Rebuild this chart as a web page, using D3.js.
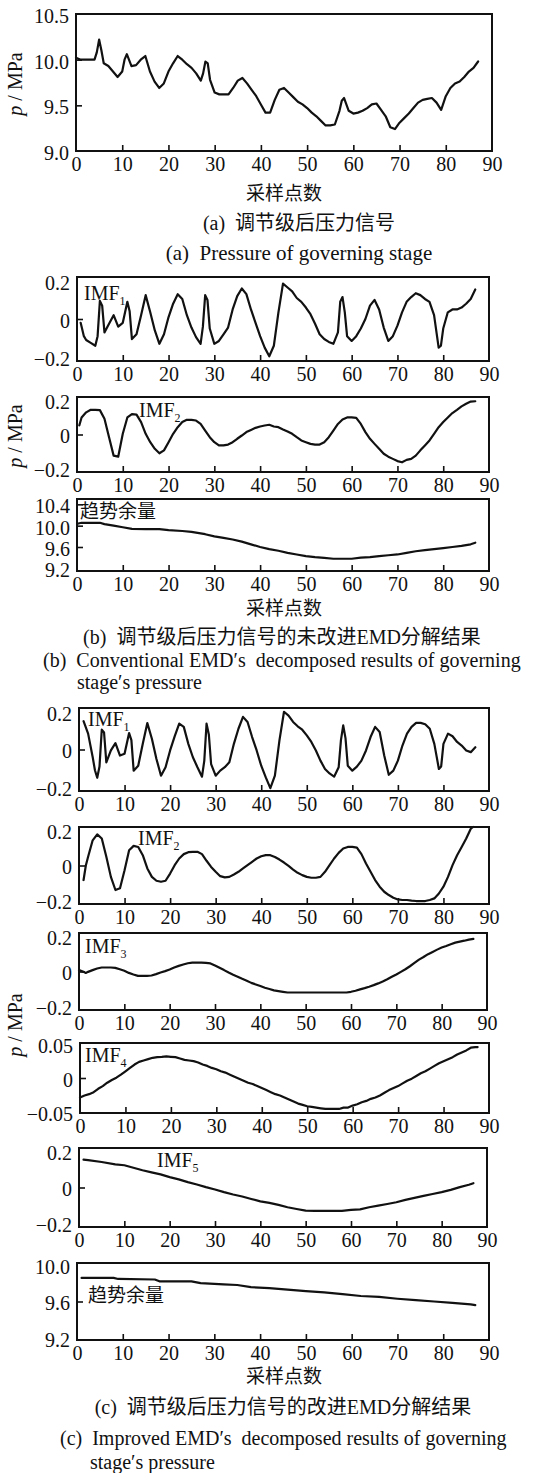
<!DOCTYPE html>
<html><head><meta charset="utf-8">
<script src="https://cdn.jsdelivr.net/npm/d3@7"></script>
<style>
html,body{margin:0;padding:0;background:#fff;}
svg text{font-family:"Liberation Serif","Noto Sans CJK SC",serif;fill:#111;white-space:pre;}
</style></head><body>
<svg id="chart" width="555" height="1473"></svg>
<script>
// ---------------- data ----------------
const xTicks = [0,10,20,30,40,50,60,70,80,90];
const pressTicks = [9.0,9.5,10.0,10.5];
const imfTicks = [-0.2,0,0.2];
const imf4Ticks = [-0.05,0,0.05];
const trendBTicks = [9.2,9.6,10.0,10.4];
const trendCTicks = [9.2,9.6,10.0];

const pressure = [[0,10.02],[1,10.0],[2,10.0],[3,10.0],[4,10.0],[4.5,10.08],[5,10.22],[5.5,10.1],[6,9.96],[7,9.93],[8,9.87],[9,9.81],[10,9.87],[10.5,10.0],[11,10.06],[12,9.93],[13,9.94],[14,10.0],[15,10.04],[16,9.87],[17,9.76],[18,9.69],[19,9.74],[20,9.87],[21,9.96],[22,10.04],[23,10.0],[24,9.95],[25,9.91],[26,9.85],[27,9.77],[27.5,9.85],[28,9.98],[28.5,9.96],[29,9.78],[30,9.64],[31,9.62],[32,9.62],[33,9.62],[34,9.69],[35,9.77],[36,9.80],[37,9.74],[38,9.67],[39,9.60],[40,9.51],[41,9.42],[42,9.42],[43,9.56],[44,9.67],[45,9.69],[46,9.64],[47,9.59],[48,9.54],[49,9.51],[50,9.47],[51,9.42],[52,9.38],[53,9.33],[54,9.28],[55,9.28],[56,9.29],[57,9.44],[57.5,9.55],[58,9.58],[59,9.44],[60,9.41],[61,9.42],[62,9.44],[63,9.47],[64,9.51],[65,9.52],[66,9.45],[67,9.38],[68,9.26],[69,9.24],[70,9.31],[71,9.36],[72,9.41],[73,9.47],[74,9.53],[75,9.56],[76,9.57],[77,9.58],[78,9.53],[79,9.45],[80,9.60],[81,9.69],[82,9.74],[83,9.76],[84,9.81],[85,9.87],[86,9.91],[87,9.98]];

const convImf1 = [[0.8,-0.02],[1.5,-0.09],[2,-0.11],[3,-0.125],[4,-0.14],[4.5,-0.09],[5,0.095],[5.5,0.07],[6,-0.07],[7,-0.025],[8,0.02],[9,-0.04],[10,-0.02],[11,0.09],[11.5,0.04],[12,-0.105],[13,-0.08],[14,0.02],[15,0.125],[16,0.035],[17,-0.06],[18,-0.13],[19,-0.08],[20,0.01],[21,0.08],[22,0.13],[23,0.105],[24,0.02],[25,-0.045],[26,-0.095],[27,-0.13],[27.5,-0.04],[28,0.125],[28.5,0.1],[29,-0.05],[30,-0.13],[31,-0.115],[32,-0.08],[33,-0.045],[34,0.05],[35,0.12],[36,0.16],[37,0.13],[38,0.05],[39,-0.02],[40,-0.09],[41,-0.15],[42,-0.195],[43,-0.14],[44,0.035],[45,0.185],[46,0.165],[47,0.145],[48,0.11],[49,0.09],[50,0.06],[51,0.025],[52,-0.025],[53,-0.08],[54,-0.105],[55,-0.12],[56,-0.13],[57,-0.07],[57.5,0.09],[58,0.115],[58.5,0.035],[59,-0.09],[60,-0.115],[61,-0.09],[62,-0.05],[63,0],[64,0.07],[65,0.1],[66,0.05],[67,-0.045],[68,-0.115],[69,-0.09],[70,-0.035],[71,0.035],[72,0.09],[73,0.115],[74,0.135],[75,0.125],[76,0.105],[77,0.09],[78,0.02],[79,-0.15],[79.5,-0.14],[80,-0.05],[81,0.035],[82,0.05],[83,0.05],[84,0.06],[85,0.08],[86,0.105],[87,0.155]];

const convImf2 = [[0.5,0.053],[1,0.10],[2,0.13],[3,0.145],[4,0.145],[5,0.143],[6,0.093],[7,-0.016],[8,-0.124],[9,-0.13],[10,0.004],[11,0.10],[12,0.12],[13,0.117],[14,0.073],[15,0.004],[16,-0.045],[17,-0.084],[18,-0.11],[19,-0.093],[20,-0.045],[21,0.004],[22,0.043],[23,0.073],[24,0.086],[25,0.086],[26,0.082],[27,0.062],[28,0.023],[29,-0.016],[30,-0.045],[31,-0.064],[32,-0.064],[33,-0.059],[34,-0.045],[35,-0.025],[36,-0.006],[37,0.014],[38,0.027],[39,0.039],[40,0.047],[41,0.053],[42,0.057],[43,0.047],[44,0.043],[45,0.03],[46,0.018],[47,0.004],[48,-0.016],[49,-0.035],[50,-0.045],[51,-0.055],[52,-0.059],[53,-0.059],[54,-0.045],[55,-0.016],[56,0.023],[57,0.062],[58,0.088],[59,0.10],[60,0.10],[61,0.098],[62,0.062],[63,0.014],[64,-0.025],[65,-0.055],[66,-0.084],[67,-0.113],[68,-0.13],[69,-0.143],[70,-0.156],[71,-0.163],[72,-0.149],[73,-0.143],[74,-0.124],[75,-0.093],[76,-0.064],[77,-0.035],[78,0.004],[79,0.043],[80,0.073],[81,0.10],[82,0.126],[83,0.145],[84,0.165],[85,0.18],[86,0.193],[87,0.195]];

const convTrend = [[0.3,10.04],[1,10.054],[3,10.054],[5,10.054],[6,10.03],[8,10.0],[10,9.97],[12,9.94],[15,9.935],[18,9.935],[20,9.916],[23,9.90],[25,9.885],[28,9.84],[30,9.80],[32,9.77],[34,9.74],[36,9.70],[38,9.65],[40,9.60],[42,9.56],[44,9.53],[46,9.49],[48,9.46],[50,9.43],[52,9.41],[54,9.395],[56,9.38],[58,9.38],[60,9.38],[62,9.40],[64,9.41],[66,9.43],[68,9.445],[70,9.46],[72,9.49],[74,9.52],[76,9.54],[78,9.56],[80,9.58],[82,9.60],[84,9.62],[86,9.65],[87,9.68]];

const impImf1 = [[1,0.15],[2,0.084],[3,-0.04],[3.5,-0.11],[4,-0.15],[4.5,-0.09],[5,0.105],[5.5,0.09],[6,-0.068],[7,-0.005],[8,0.034],[9,-0.032],[10,-0.023],[11,0.087],[11.5,0.05],[12,-0.112],[13,-0.086],[14,0.03],[15,0.14],[16,0.057],[17,-0.05],[18,-0.139],[19,-0.094],[20,-0.005],[21,0.07],[22,0.137],[23,0.12],[24,0.03],[25,-0.041],[26,-0.094],[27,-0.144],[27.5,-0.06],[28,0.137],[28.5,0.08],[29,-0.077],[30,-0.139],[31,-0.112],[32,-0.094],[33,-0.068],[34,0.03],[35,0.11],[36,0.173],[37,0.146],[38,0.066],[39,-0.005],[40,-0.086],[41,-0.148],[42,-0.205],[43,-0.139],[44,0.048],[45,0.2],[46,0.18],[47,0.146],[48,0.123],[49,0.105],[50,0.075],[51,0.04],[52,-0.005],[53,-0.059],[54,-0.103],[55,-0.127],[56,-0.144],[57,-0.094],[57.5,0.05],[58,0.128],[58.5,0.06],[59,-0.086],[60,-0.112],[61,-0.091],[62,-0.059],[63,-0.005],[64,0.066],[65,0.12],[66,0.093],[67,-0.032],[68,-0.134],[69,-0.112],[70,-0.059],[71,0.021],[72,0.084],[73,0.12],[74,0.141],[75,0.141],[76,0.134],[77,0.11],[78,0.03],[79,-0.103],[79.5,-0.09],[80,0.03],[81,0.084],[82,0.07],[83,0.04],[84,0.021],[85,-0.005],[86,-0.014],[87,0.012]];

const impImf2 = [[1,-0.083],[1.5,0.0],[2,0.05],[3,0.144],[4,0.178],[5,0.154],[6,0.05],[7,-0.065],[8,-0.14],[9,-0.13],[10,-0.027],[11,0.087],[12,0.112],[13,0.106],[14,0.059],[15,-0.017],[16,-0.065],[17,-0.087],[18,-0.093],[19,-0.087],[20,-0.046],[21,0.002],[22,0.04],[23,0.065],[24,0.076],[25,0.078],[26,0.078],[27,0.065],[28,0.027],[29,-0.008],[30,-0.036],[31,-0.061],[32,-0.068],[33,-0.065],[34,-0.051],[35,-0.036],[36,-0.017],[37,0.002],[38,0.021],[39,0.04],[40,0.053],[41,0.059],[42,0.059],[43,0.049],[44,0.034],[45,0.017],[46,-0.002],[47,-0.023],[48,-0.042],[49,-0.055],[50,-0.065],[51,-0.07],[52,-0.07],[53,-0.065],[54,-0.036],[55,0.002],[56,0.04],[57,0.072],[58,0.097],[59,0.106],[60,0.106],[61,0.102],[62,0.065],[63,0.011],[64,-0.036],[65,-0.083],[66,-0.121],[67,-0.15],[68,-0.169],[69,-0.184],[70,-0.194],[71,-0.197],[72,-0.197],[73,-0.201],[74,-0.203],[75,-0.203],[76,-0.203],[77,-0.197],[78,-0.188],[79,-0.16],[80,-0.121],[81,-0.065],[82,0.002],[83,0.059],[84,0.106],[85,0.154],[86,0.21],[86.5,0.22]];

const impImf3 = [[0,0.008],[1,-0.002],[1.5,-0.008],[2,-0.002],[3,0.008],[4,0.017],[5,0.023],[6,0.023],[7,0.023],[8,0.021],[9,0.013],[10,0.004],[11,-0.008],[12,-0.017],[13,-0.025],[14,-0.025],[15,-0.025],[16,-0.023],[17,-0.015],[18,-0.006],[19,0.002],[20,0.011],[21,0.023],[22,0.032],[23,0.04],[24,0.047],[25,0.051],[26,0.051],[27,0.051],[28,0.049],[29,0.046],[30,0.034],[31,0.021],[32,0.008],[33,-0.006],[34,-0.019],[35,-0.03],[36,-0.042],[37,-0.053],[38,-0.065],[39,-0.074],[40,-0.083],[41,-0.093],[42,-0.1],[43,-0.108],[44,-0.112],[45,-0.116],[46,-0.12],[50,-0.12],[55,-0.12],[59,-0.12],[60,-0.116],[61,-0.11],[62,-0.102],[63,-0.095],[64,-0.087],[65,-0.078],[66,-0.068],[67,-0.057],[68,-0.044],[69,-0.03],[70,-0.017],[71,-0.002],[72,0.013],[73,0.03],[74,0.049],[75,0.068],[76,0.083],[77,0.099],[78,0.112],[79,0.125],[80,0.137],[81,0.146],[82,0.156],[83,0.165],[84,0.171],[85,0.176],[86,0.182],[87,0.186]];

const impImf4 = [[0,-0.029],[1,-0.026],[2,-0.024],[3,-0.021],[4,-0.016],[5,-0.012],[6,-0.007],[7,-0.003],[8,0.0005],[9,0.005],[10,0.010],[11,0.015],[12,0.02],[13,0.024],[14,0.026],[15,0.028],[16,0.030],[17,0.031],[18,0.0314],[19,0.032],[20,0.0315],[21,0.031],[22,0.029],[23,0.027],[24,0.026],[25,0.025],[26,0.023],[27,0.02],[28,0.018],[29,0.015],[30,0.013],[31,0.010],[32,0.008],[33,0.005],[34,0.002],[35,-0.001],[36,-0.004],[37,-0.007],[38,-0.009],[39,-0.012],[40,-0.015],[41,-0.018],[42,-0.021],[43,-0.024],[44,-0.026],[45,-0.029],[46,-0.032],[47,-0.035],[48,-0.038],[49,-0.040],[50,-0.042],[51,-0.043],[52,-0.044],[53,-0.045],[54,-0.046],[57,-0.046],[58,-0.044],[59,-0.044],[60,-0.041],[61,-0.039],[62,-0.036],[63,-0.034],[64,-0.031],[65,-0.029],[66,-0.026],[67,-0.022],[68,-0.018],[69,-0.015],[70,-0.012],[71,-0.008],[72,-0.004],[73,-0.001],[74,0.003],[75,0.007],[76,0.010],[77,0.014],[78,0.018],[79,0.022],[80,0.025],[81,0.028],[82,0.031],[83,0.035],[84,0.038],[85,0.041],[86,0.045],[87,0.046],[87.5,0.046]];

const impImf5 = [[1,0.155],[2,0.152],[5,0.142],[8,0.129],[10,0.124],[12,0.11],[14,0.096],[16,0.084],[18,0.073],[20,0.058],[22,0.045],[24,0.03],[26,0.017],[28,0.002],[30,-0.011],[32,-0.026],[34,-0.039],[36,-0.05],[38,-0.064],[40,-0.077],[42,-0.086],[44,-0.097],[46,-0.11],[48,-0.12],[50,-0.129],[52,-0.13],[55,-0.13],[58,-0.13],[60,-0.125],[62,-0.122],[64,-0.11],[66,-0.101],[68,-0.092],[70,-0.082],[72,-0.069],[74,-0.058],[76,-0.047],[78,-0.036],[80,-0.026],[82,-0.013],[84,0.002],[86,0.015],[87,0.024]];

const impTrend = [[1,9.857],[8,9.857],[9,9.846],[17,9.84],[18,9.82],[25,9.82],[27,9.80],[32,9.786],[35,9.78],[38,9.757],[42,9.746],[46,9.73],[50,9.714],[54,9.70],[58,9.68],[62,9.66],[66,9.65],[70,9.63],[74,9.614],[78,9.60],[82,9.586],[86,9.568],[87,9.56]];

// ---------------- layout ----------------
const svg = d3.select('#chart');
const FONT = '"Liberation Serif","Noto Sans CJK SC",serif';

const panels = [
  {x0:76,x1:492,y0:14,y1:151,dom:[9.0,10.5],ticks:pressTicks,fmt:'.1f',data:pressure},
  {x0:77,x1:489,y0:277,y1:361,dom:[-0.22,0.22],ticks:imfTicks,fmt:'.1f',data:convImf1,label:['IMF','1'],lx:84,ly:300},
  {x0:77,x1:489,y0:397,y1:472,dom:[-0.22,0.22],ticks:imfTicks,fmt:'.1f',data:convImf2,label:['IMF','2'],lx:139,ly:417},
  {x0:77,x1:489,y0:499,y1:571,dom:[9.15,10.5],ticks:trendBTicks,fmt:'.1f',data:convTrend,cjk:'趋势余量',lx:80,ly:518},
  {x0:79,x1:489,y0:708,y1:791,dom:[-0.22,0.22],ticks:imfTicks,fmt:'.1f',data:impImf1,label:['IMF','1'],lx:88,ly:726},
  {x0:79,x1:489,y0:827,y1:904,dom:[-0.22,0.22],ticks:imfTicks,fmt:'.1f',data:impImf2,label:['IMF','2'],lx:138,ly:845},
  {x0:79,x1:487,y0:933,y1:1010,dom:[-0.22,0.22],ticks:imfTicks,fmt:'.1f',data:impImf3,label:['IMF','3'],lx:85,ly:953},
  {x0:80,x1:489,y0:1043,y1:1113,dom:[-0.052,0.052],ticks:imf4Ticks,fmt:'.2f',data:impImf4,label:['IMF','4'],lx:85,ly:1062},
  {x0:79,x1:487,y0:1148,y1:1227,dom:[-0.22,0.22],ticks:imfTicks,fmt:'.1f',data:impImf5,label:['IMF','5'],lx:157,ly:1167},
  {x0:77,x1:489,y0:1263,y1:1340,dom:[9.18,10.02],ticks:trendCTicks,fmt:'.1f',data:impTrend,cjk:'趋势余量',lx:88,ly:1302}
];

function fmtTick(spec){
  const f = d3.format(spec);
  return d => d === 0 ? '0' : (d < 0 ? '\u2212' + f(-d) : f(d));
}

panels.forEach(p => {
  const x = d3.scaleLinear().domain([0,90]).range([p.x0,p.x1]);
  const y = d3.scaleLinear().domain(p.dom).range([p.y1,p.y0]);
  const g = svg.append('g');

  const xa = d3.axisBottom(x).tickValues(xTicks).tickSizeInner(-6).tickSizeOuter(0)
    .tickPadding(6).tickFormat(d3.format('d'));
  g.append('g').attr('transform',`translate(0,${p.y1})`).call(xa)
    .attr('font-family',FONT).attr('font-size',20)
    .call(s => {
      s.select('.domain').remove();
      s.selectAll('.tick line').filter(d => d===0 || d===90).remove();
      s.selectAll('.tick line').attr('stroke','#111').attr('stroke-width',1.6);
      s.selectAll('.tick text').attr('fill','#111');
    });

  const ya = d3.axisLeft(y).tickValues(p.ticks).tickSizeInner(-6).tickSizeOuter(0)
    .tickPadding(7).tickFormat(fmtTick(p.fmt));
  g.append('g').attr('transform',`translate(${p.x0},0)`).call(ya)
    .attr('font-family',FONT).attr('font-size',20)
    .call(s => {
      s.select('.domain').remove();
      s.selectAll('.tick line').filter(d => Math.abs(y(d)-p.y0) < 5 || Math.abs(y(d)-p.y1) < 5).remove();
      s.selectAll('.tick line').attr('stroke','#111').attr('stroke-width',1.6);
      s.selectAll('.tick text').attr('fill','#111').attr('dy','0.42em');
    });

  g.append('path').datum(p.data)
    .attr('d', d3.line().x(d => x(d[0])).y(d => y(d[1])))
    .attr('fill','none').attr('stroke','#111').attr('stroke-width',2.2)
    .attr('stroke-linejoin','round').attr('stroke-linecap','round');

  g.append('rect').attr('x',p.x0).attr('y',p.y0)
    .attr('width',p.x1-p.x0).attr('height',p.y1-p.y0)
    .attr('fill','none').attr('stroke','#111').attr('stroke-width',2);

  if (p.label) {
    const t = g.append('text').attr('x',p.lx).attr('y',p.ly).attr('font-size',20);
    t.append('tspan').text(p.label[0]);
    t.append('tspan').attr('font-size',12).attr('dy',5).text(p.label[1]);
  }
  if (p.cjk) {
    g.append('text').attr('x',p.lx).attr('y',p.ly).attr('font-size',19).text(p.cjk);
  }
});

// y axis labels
function yLabel(cx, cy){
  const t = svg.append('text').attr('transform',`translate(${cx},${cy}) rotate(-90)`)
    .attr('text-anchor','middle').attr('font-size',20).attr('dy','0.35em');
  t.append('tspan').attr('font-style','italic').text('p');
  t.append('tspan').text(' / MPa');
}
yLabel(15,84); yLabel(15,436); yLabel(15,1025);

// x axis labels and captions
function txt(x, y, s, size, anchor){
  svg.append('text').attr('x',x).attr('y',y).attr('font-size',size)
    .attr('text-anchor',anchor||'middle').text(s);
}
txt(284,200,'采样点数',19);
txt(299,230,'(a)  调节级后压力信号',20);
txt(299,260,'(a)  Pressure of governing stage',21);

txt(284,615,'采样点数',19);
txt(282,644,'(b)  调节级后压力信号的未改进EMD分解结果',20);
txt(43,667,'(b)  Conventional EMD\u2032s  decomposed results of governing',20,'start');
txt(77,689,'stage\u2032s pressure',20,'start');

txt(284,1383,'采样点数',19);
txt(283,1414,'(c)  调节级后压力信号的改进EMD分解结果',20);
txt(60,1445,'(c)  Improved EMD\u2032s  decomposed results of governing',20,'start');
txt(90,1469,'stage\u2032s pressure',20,'start');
</script>
</body></html>
